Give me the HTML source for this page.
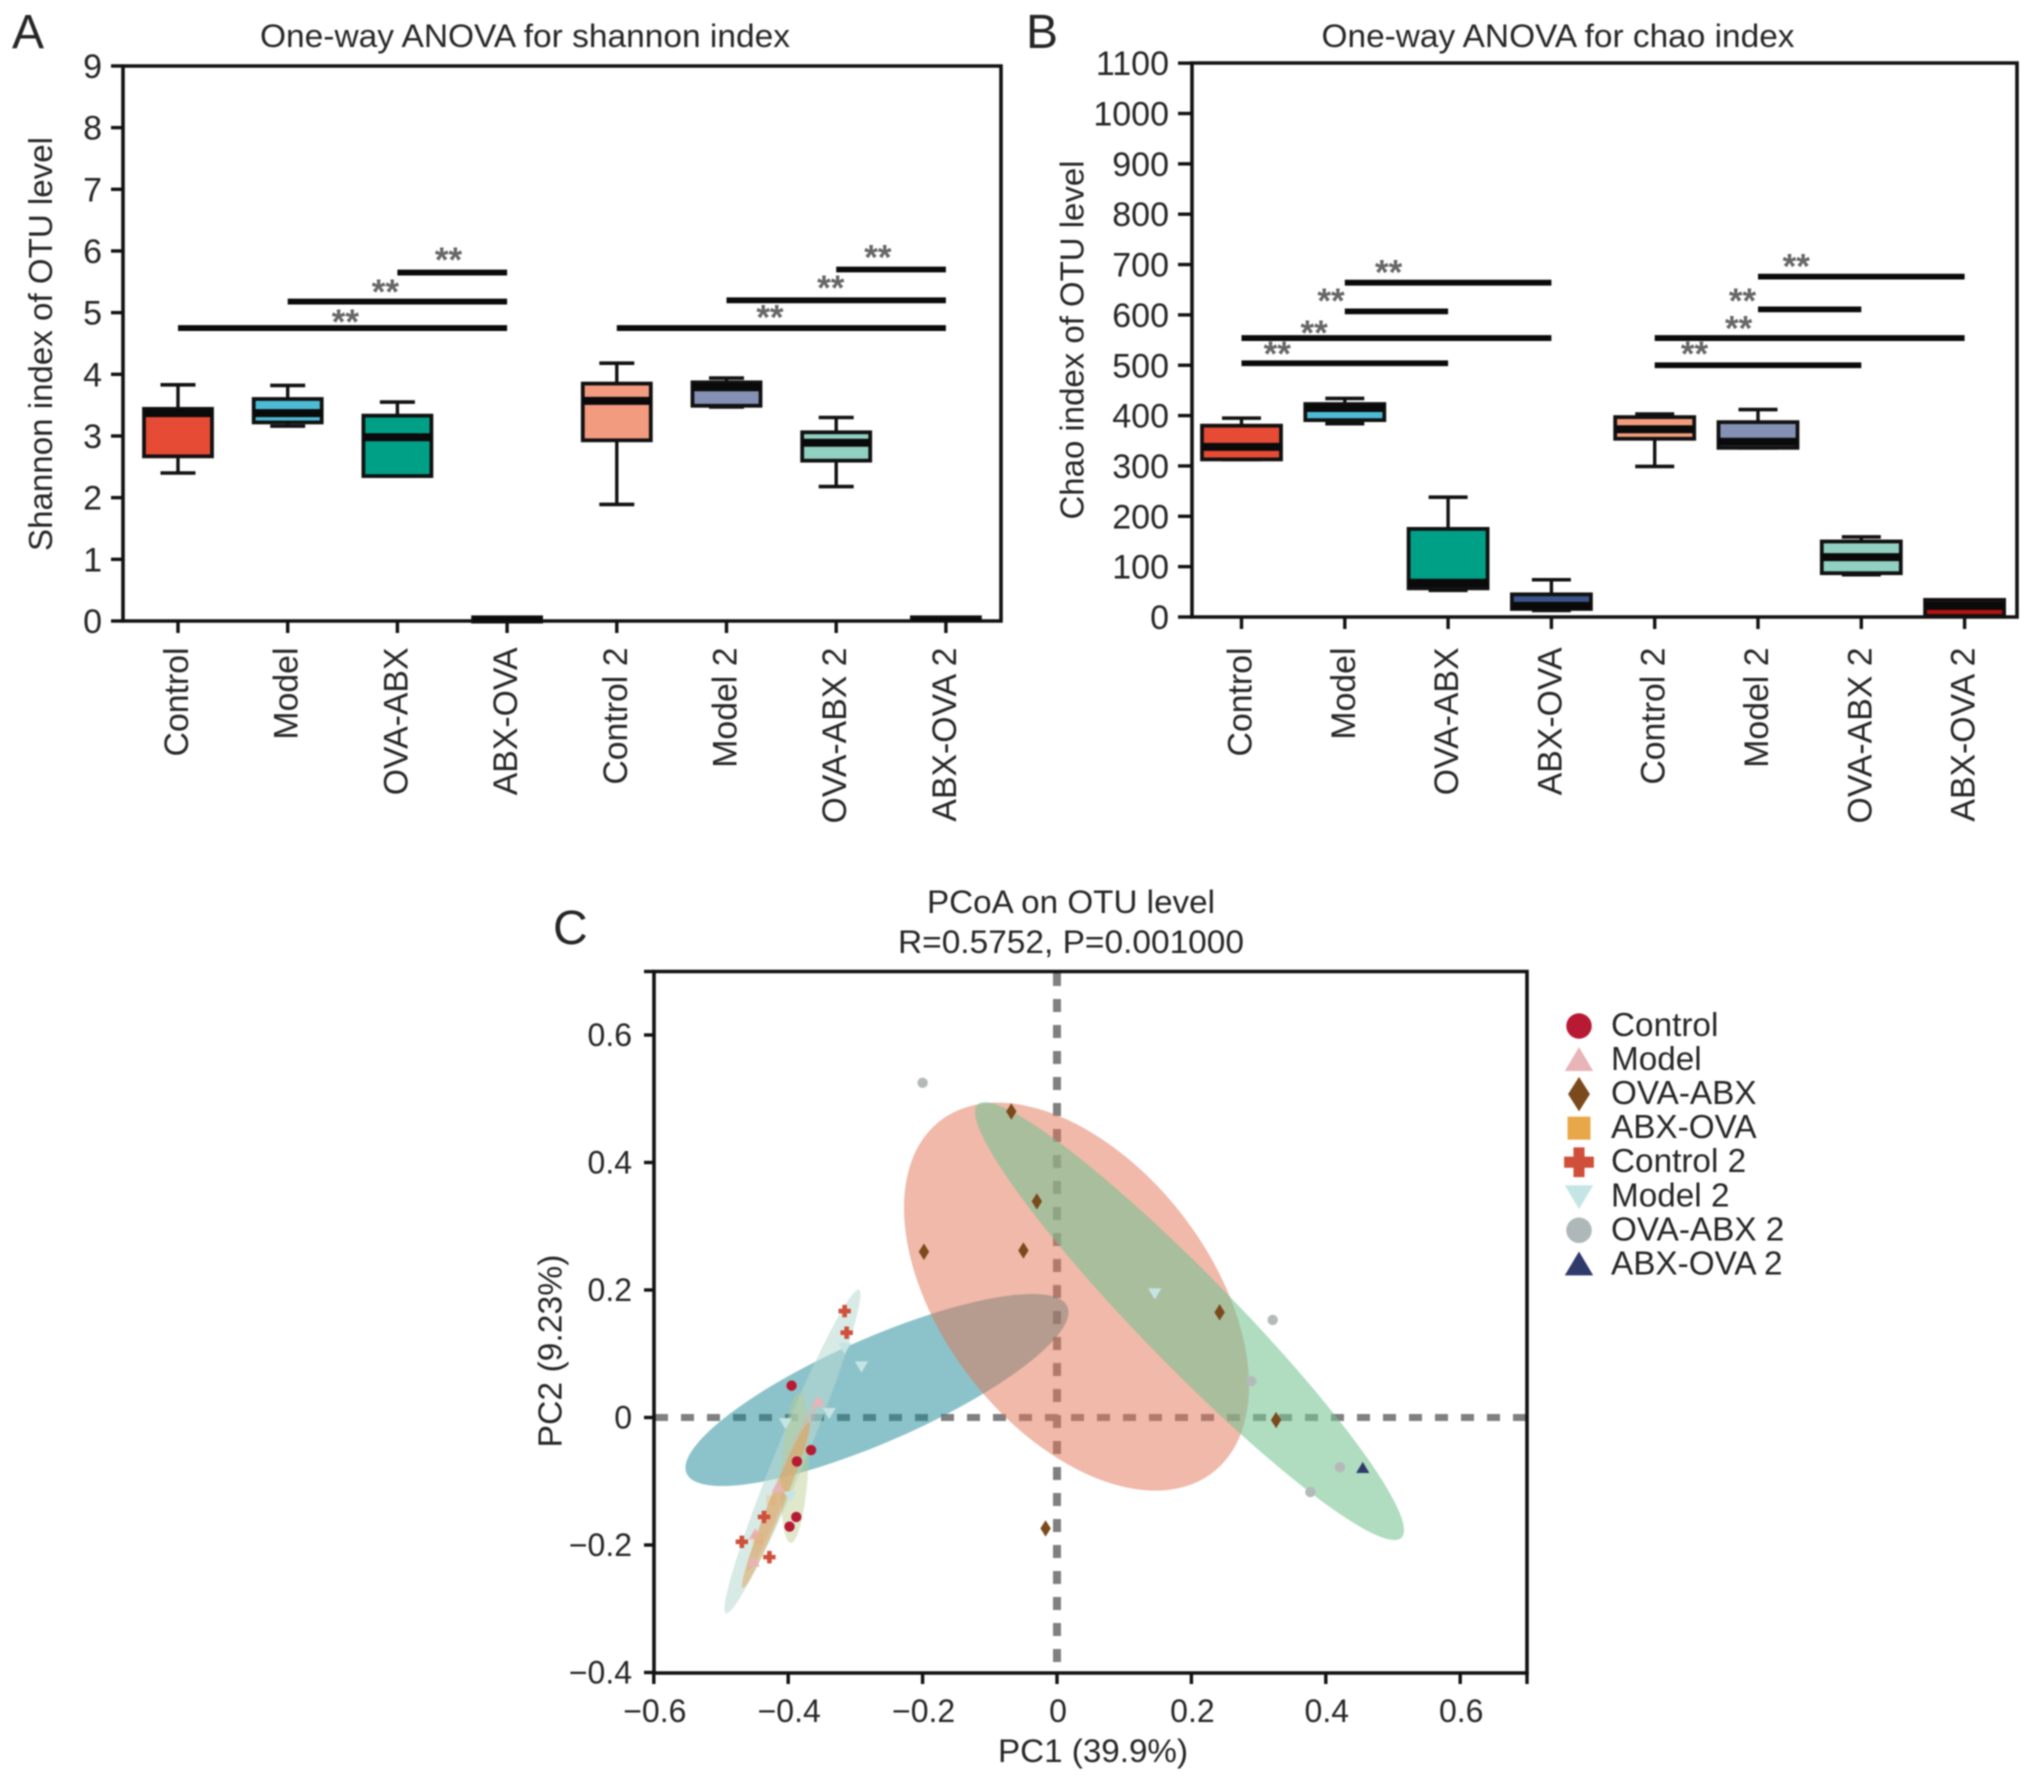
<!DOCTYPE html>
<html lang="en">
<head>
<meta charset="utf-8">
<title>Alpha diversity and PCoA on OTU level</title>
<style>
  html, body { margin: 0; padding: 0; background: #fff; }
  #figure { display: block; width: 2032px; height: 1782px; filter: blur(0.7px); }
  text { font-family: "Liberation Sans", sans-serif; fill: #262626; }
</style>
</head>
<body>
<svg id="figure" xmlns="http://www.w3.org/2000/svg" width="2032" height="1782" viewBox="0 0 2032 1782"></svg>
<script>
/* ---------- shared categories ---------- */
const categories = ['Control', 'Model', 'OVA-ABX', 'ABX-OVA', 'Control 2', 'Model 2', 'OVA-ABX 2', 'ABX-OVA 2'];
const boxColors = ['#E64B35', '#4DBBD5', '#00A087', '#3C5488', '#F39B7F', '#8491B4', '#91D1C2', '#B41212'];

/* ---------- panel A: Shannon ---------- */
const shannonTicks = [0, 1, 2, 3, 4, 5, 6, 7, 8, 9];
const shannonLow    = [2.40, 3.16, 2.35, -0.01, 1.89, 3.47, 2.18, 0.01];
const shannonQ1     = [2.67, 3.22, 2.35, -0.01, 2.93, 3.49, 2.60, 0.01];
const shannonMedian = [3.37, 3.37, 2.98, 0.03, 3.57, 3.79, 2.89, 0.03];
const shannonQ3     = [3.44, 3.60, 3.33, 0.06, 3.85, 3.87, 3.06, 0.06];
const shannonHigh   = [3.83, 3.82, 3.55, 0.06, 4.18, 3.94, 3.30, 0.06];
const shannonSigFrom  = [0, 1, 2, 4, 5, 6];
const shannonSigTo    = [3, 3, 3, 7, 7, 7];
const shannonSigLevel = [4.75, 5.18, 5.65, 4.75, 5.20, 5.70];
const shannonStarCat  = [1.526, 1.89, 2.466, 5.396, 5.95, 6.38];
const shannonStarVal  = [4.94, 5.42, 5.94, 5.01, 5.49, 5.98];

/* ---------- panel B: Chao ---------- */
const chaoTicks = [0, 100, 200, 300, 400, 500, 600, 700, 800, 900, 1000, 1100];
const chaoLow    = [313, 384, 53, 13, 299, 336, 84, 2];
const chaoQ1     = [313, 391, 57, 16, 354, 336, 87, 2];
const chaoMedian = [338, 415, 68, 22, 373, 348, 119, 22];
const chaoQ3     = [380, 423, 175, 45, 397, 387, 150, 34];
const chaoHigh   = [395, 434, 238, 74, 403, 412, 159, 34];
const chaoSigFrom  = [0, 0, 1, 1, 4, 4, 5, 5];
const chaoSigTo    = [2, 3, 2, 3, 6, 7, 6, 7];
const chaoSigLevel = [504, 554, 607, 664, 500, 554, 611, 676];
const chaoStarCat  = [0.346, 0.703, 0.866, 1.424, 4.385, 4.812, 4.85, 5.37];
const chaoStarVal  = [533, 575, 639, 695, 533, 584, 639, 707];

/* ---------- panel C: PCoA ---------- */
const pcoaXTicks = [-0.6, -0.4, -0.2, 0, 0.2, 0.4, 0.6];
const pcoaYTicks = [-0.4, -0.2, 0, 0.2, 0.4, 0.6];
const controlPC1 = [-0.395, -0.366, -0.387, -0.388, -0.398];
const controlPC2 = [0.050, -0.051, -0.069, -0.156, -0.171];
const modelPC1 = [-0.355, -0.449, -0.452, -0.415];
const modelPC2 = [0.025, -0.183, -0.226, -0.109];
const ovaAbxPC1 = [-0.068, -0.030, -0.198, -0.050, 0.242, 0.326, -0.017];
const ovaAbxPC2 = [0.480, 0.339, 0.260, 0.262, 0.165, -0.004, -0.174];
const abxOvaPC1 = [-0.425, -0.445];
const abxOvaPC2 = [-0.130, -0.190];
const control2PC1 = [-0.316, -0.313, -0.436, -0.469, -0.428];
const control2PC2 = [0.167, 0.133, -0.156, -0.195, -0.219];
const model2PC1 = [-0.316, -0.291, -0.339, -0.404, -0.397, 0.1455];
const model2PC2 = [0.109, 0.080, 0.007, -0.009, -0.124, 0.1945];
const ovaAbx2PC1 = [-0.200, 0.321, 0.289, 0.421, 0.377];
const ovaAbx2PC2 = [0.525, 0.153, 0.057, -0.078, -0.117];
const abxOva2PC1 = [0.455];
const abxOva2PC2 = [-0.079];

/* ellipse centre, half extents along each axis, and x-y correlation, in data units */
const ellipseNames = ['teal-control', 'salmon-ova-abx', 'green-ova-abx-2', 'pale-model-2', 'beige-control-thin', 'pink-model-thin', 'orange-abx-ova-thin'];
const ellipseCX = [-0.2679, 0.0290, 0.1972, -0.3936, -0.3899, -0.4077, -0.4182];
const ellipseCY = [0.0431, 0.1896, 0.1512, -0.0533, -0.0792, -0.1035, -0.1373];
const ellipseRX = [0.2850, 0.2567, 0.3192, 0.1012, 0.0208, 0.0536, 0.0506];
const ellipseRY = [0.1506, 0.3043, 0.3435, 0.2541, 0.1176, 0.1380, 0.1302];
const ellipseRho = [0.81, -0.458, -0.955, 0.97, 0.30, 0.98, 0.972];
const ellipseColors = ['#198795', '#E17355', '#77C393', '#BADAD2', '#BBCB8D', '#E6AFAA', '#DD9F50'];
const ellipseAlpha = [0.5, 0.5, 0.58, 0.56, 0.45, 0.35, 0.5];

/* ---------- axis functions ---------- */
function shannonX(i) { return 178 + 109.7 * i; }
function shannonY(v) { return 621 - 61.67 * v; }
function chaoX(i) { return 1241.5 + 103.3 * i; }
function chaoY(v) { return 617 - 0.5035 * v; }
function pcoaX(v) { return 1057 + 672 * v; }
function pcoaY(v) { return 1417.5 - 637.5 * v; }

/* ---------- helpers ---------- */
const svg = document.getElementById('figure');
const NS = 'http://www.w3.org/2000/svg';
function make(tag, attrs, parent) {
  const node = document.createElementNS(NS, tag);
  for (const k in attrs) node.setAttribute(k, attrs[k]);
  (parent || svg).appendChild(node);
  return node;
}
function slug(s) { return s.toLowerCase().replace(/[^a-z0-9]+/g, '-'); }
function hline(x1, y1, x2, y2, w, color, parent) {
  return make('line', { x1: x1, y1: y1, x2: x2, y2: y2, stroke: color || '#111', 'stroke-width': w }, parent);
}
function label(str, x, y, size, opts, parent) {
  const o = opts || {};
  const attrs = { x: x, y: y, 'font-size': size, 'text-anchor': o.anchor || 'middle' };
  if (o.rotate) attrs.transform = 'rotate(-90 ' + x + ' ' + y + ')';
  if (o.len) { attrs.textLength = o.len; attrs.lengthAdjust = 'spacingAndGlyphs'; }
  if (o.bold) attrs['font-weight'] = 'bold';
  if (o.color) attrs.style = 'fill:' + o.color;
  const t = make('text', attrs, parent);
  t.textContent = str;
  return t;
}

/* ---------- box panel ---------- */
function drawBoxPanel(cfg) {
  const g = make('g', {});
  
  

  const frame = make('path', {
    d: 'M' + cfg.left + ' ' + cfg.top + 'H' + cfg.right + 'V' + cfg.bottom + 'H' + cfg.left + 'Z',
    fill: 'none', stroke: '#111', 'stroke-width': 3.6
  }, g);
  
  

  cfg.ticks.forEach(function (v) {
    const y = cfg.y(v);
    const tick = hline(cfg.left - cfg.tickLen, y, cfg.left, y, 3.4, '#111', g);
    
    
    const tl = label(String(v), cfg.left - cfg.tickLen - 9, y + 12, 34, { anchor: 'end' }, g);
    
    
  });

  categories.forEach(function (name, i) {
    const x = cfg.x(i);
    const s = slug(name);
    const tick = hline(x, cfg.bottom, x, cfg.bottom + 12, 3.4, '#111', g);
    
    
    const tl = label(name, x + 10, 647.5, 33.8, { anchor: 'end', rotate: true }, g);
    
    

    const box = make('g', {}, g);
    
    
    const yLow = cfg.y(cfg.low[i]), yHigh = cfg.y(cfg.high[i]);
    const yQ1 = cfg.y(cfg.q1[i]), yQ3 = cfg.y(cfg.q3[i]), yMed = cfg.y(cfg.median[i]);
    const whisker = hline(x, yHigh, x, yLow, 3.4, '#111', box);
    
    
    const capHigh = hline(x - cfg.cap / 2, yHigh, x + cfg.cap / 2, yHigh, 3.6, '#111', box);
    
    
    const capLow = hline(x - cfg.cap / 2, yLow, x + cfg.cap / 2, yLow, 3.6, '#111', box);
    
    
    const rect = make('rect', {
      x: x - cfg.boxW / 2, y: yQ3, width: cfg.boxW, height: Math.max(yQ1 - yQ3, 1),
      fill: boxColors[i], stroke: '#111', 'stroke-width': 3.8
    }, box);
    
    
    const medW = Math.min(8, Math.max(yQ1 - yQ3, 1));
    const med = hline(x - cfg.boxW / 2, yMed, x + cfg.boxW / 2, yMed, medW, '#0a0a0a', box);
    
    
  });

  cfg.sigFrom.forEach(function (from, i) {
    const y = cfg.y(cfg.sigLevel[i]);
    const bar = hline(cfg.x(from), y, cfg.x(cfg.sigTo[i]), y, 5.8, '#0a0a0a', g);
    
    
  });
  cfg.starCat.forEach(function (c, i) {
    const st = label('**', cfg.x(c), cfg.y(cfg.starVal[i]) + 17.5, 35, { color: '#666666', bold: true }, g);
    
    
  });

  const title = label(cfg.title, cfg.titleX, 47, 32.5, { len: cfg.titleLen }, g);
  
  
  const yt = label(cfg.yTitle, cfg.yTitleX, cfg.yTitleY, 33, { rotate: true, len: cfg.yTitleLen }, g);
  
  
}

drawBoxPanel({
  id: 'shannon', left: 123, right: 1001, top: 66, bottom: 621, tickLen: 12, boxW: 68, cap: 35,
  x: shannonX, y: shannonY, ticks: shannonTicks,
  low: shannonLow, q1: shannonQ1, median: shannonMedian, q3: shannonQ3, high: shannonHigh,
  sigFrom: shannonSigFrom, sigTo: shannonSigTo, sigLevel: shannonSigLevel,
  starCat: shannonStarCat, starVal: shannonStarVal,
  title: 'One-way ANOVA for shannon index', titleX: 525, titleLen: 530,
  yTitle: 'Shannon index of OTU level', yTitleX: 52, yTitleY: 344, yTitleLen: 414
});
drawBoxPanel({
  id: 'chao', left: 1192, right: 2017, top: 63, bottom: 617, tickLen: 14, boxW: 79, cap: 39,
  x: chaoX, y: chaoY, ticks: chaoTicks,
  low: chaoLow, q1: chaoQ1, median: chaoMedian, q3: chaoQ3, high: chaoHigh,
  sigFrom: chaoSigFrom, sigTo: chaoSigTo, sigLevel: chaoSigLevel,
  starCat: chaoStarCat, starVal: chaoStarVal,
  title: 'One-way ANOVA for chao index', titleX: 1558, titleLen: 473,
  yTitle: 'Chao index of OTU level', yTitleX: 1083.5, yTitleY: 340, yTitleLen: 359
});

/* ---------- panel letters ---------- */
const letterA = label('A', 12, 48, 48, { anchor: 'start' });


const letterB = label('B', 1026, 48, 48, { anchor: 'start' });


const letterC = label('C', 553, 944, 48, { anchor: 'start' });



/* ---------- markers ---------- */
function drawMarker(shape, cx, cy, k, color, parent) {
  let node;
  if (shape === 'circle') {
    node = make('circle', { cx: cx, cy: cy, r: 5.2 * k, fill: color }, parent);
  } else if (shape === 'square') {
    node = make('rect', { x: cx - 5 * k, y: cy - 5 * k, width: 10 * k, height: 10 * k, fill: color }, parent);
  } else {
    let pts;
    const s = 6 * k;
    if (shape === 'up') pts = [[0, -s], [s * 1.1, s * 0.85], [-s * 1.1, s * 0.85]];
    if (shape === 'down') pts = [[-s * 1.1, -s * 0.85], [s * 1.1, -s * 0.85], [0, s]];
    if (shape === 'diamond') pts = [[0, -8.2 * k], [5.2 * k, 0], [0, 8.2 * k], [-5.2 * k, 0]];
    if (shape === 'plus') {
      const a = 6.2 * k, b = 2.3 * k;
      pts = [[-b, -a], [b, -a], [b, -b], [a, -b], [a, b], [b, b], [b, a], [-b, a], [-b, b], [-a, b], [-a, -b], [-b, -b]];
    }
    node = make('polygon', {
      points: pts.map(function (p) { return (cx + p[0]) + ',' + (cy + p[1]); }).join(' '),
      fill: color
    }, parent);
  }
  return node;
}

/* ---------- panel C ---------- */
(function drawPcoa() {
  const g = make('g', {});
  
  

  const zeroH = make('line', { x1: 655, y1: pcoaY(0), x2: 1527, y2: pcoaY(0), stroke: '#808080', 'stroke-width': 7, 'stroke-dasharray': '13 13' }, g);
  
  
  const zeroV = make('line', { x1: pcoaX(0), y1: 973, x2: pcoaX(0), y2: 1665, stroke: '#808080', 'stroke-width': 8, 'stroke-dasharray': '13 13' }, g);
  
  

  ellipseNames.forEach(function (name, i) {
    const sx = 672, sy = 637.5;
    const rho = ellipseRho[i];
    const a = ellipseRX[i] * sx;
    const b = -ellipseRY[i] * sy * rho;
    const d = ellipseRY[i] * sy * Math.sqrt(1 - rho * rho);
    const e = make('circle', {
      cx: 0, cy: 0, r: 1, fill: ellipseColors[i], 'fill-opacity': ellipseAlpha[i],
      transform: 'matrix(' + a + ' ' + b + ' 0 ' + d + ' ' + pcoaX(ellipseCX[i]) + ' ' + pcoaY(ellipseCY[i]) + ')'
    }, g);
    
    
  });

  const frame = make('path', { d: 'M654 971.5H1527V1673H654Z', fill: 'none', stroke: '#111', 'stroke-width': 3.6 }, g);
  
  
  const topTick = hline(644, 971.5, 654, 971.5, 3.4, '#111', g);
  
  
  const endTick = hline(1527, 1673, 1527, 1684, 3.4, '#111', g);
  
  

  pcoaYTicks.forEach(function (v) {
    const y = pcoaY(v);
    const tick = hline(644, y, 654, y, 3.4, '#111', g);
    
    
    const txt = (v < 0 ? '\u2212' + Math.abs(v).toFixed(1) : (v === 0 ? '0' : v.toFixed(1)));
    const tl = label(txt, 632, y + 11, 32, { anchor: 'end' }, g);
    
    
  });
  pcoaXTicks.forEach(function (v) {
    const x = pcoaX(v);
    const tick = hline(x, 1673, x, 1684, 3.4, '#111', g);
    
    
    const txt = (v < 0 ? '\u2212' + Math.abs(v).toFixed(1) : (v === 0 ? '0' : v.toFixed(1)));
    const tl = label(txt, x + 1, 1722, 32, {}, g);
    
    
  });

  const series = [
    { name: 'Model', shape: 'up', color: '#E8B4B8', alpha: 1, xs: modelPC1, ys: modelPC2 },
    { name: 'ABX-OVA', shape: 'square', color: '#E8A84A', alpha: 0.25, xs: abxOvaPC1, ys: abxOvaPC2 },
    { name: 'Model 2', shape: 'down', color: '#C5E5E5', alpha: 1, xs: model2PC1, ys: model2PC2 },
    { name: 'OVA-ABX 2', shape: 'circle', color: '#B4BABA', alpha: 1, xs: ovaAbx2PC1, ys: ovaAbx2PC2 },
    { name: 'Control', shape: 'circle', color: '#B81A33', alpha: 1, xs: controlPC1, ys: controlPC2 },
    { name: 'Control 2', shape: 'plus', color: '#CF4F3A', alpha: 1, xs: control2PC1, ys: control2PC2 },
    { name: 'OVA-ABX', shape: 'diamond', color: '#7A4A1C', alpha: 1, xs: ovaAbxPC1, ys: ovaAbxPC2 },
    { name: 'ABX-OVA 2', shape: 'up', color: '#2F3A6B', alpha: 1, xs: abxOva2PC1, ys: abxOva2PC2 }
  ];
  series.forEach(function (s) {
    s.xs.forEach(function (xv, i) {
      const m = drawMarker(s.shape, pcoaX(xv), pcoaY(s.ys[i]), 1, s.color, g);
      m.setAttribute('fill-opacity', s.alpha);
      
      
    });
  });

  const t1 = label('PCoA on OTU level', 1071, 913, 32, { len: 288 }, g);
  
  
  const t2 = label('R=0.5752, P=0.001000', 1071, 953, 32, { len: 346 }, g);
  
  
  const xt = label('PC1 (39.9%)', 1093, 1762, 32, { len: 190 }, g);
  
  
  const yt = label('PC2 (9.23%)', 561.5, 1351, 33, { rotate: true, len: 193 }, g);
  
  

  /* legend */
  const legendShapes = ['circle', 'up', 'diamond', 'square', 'plus', 'down', 'circle', 'up'];
  const legendColors = ['#B81A33', '#E8B4B8', '#7A4A1C', '#E8A84A', '#CF4F3A', '#C5E5E5', '#AEB8B8', '#2F3A6B'];
  const legendScale = [2.45, 2.15, 2.1, 2.3, 2.4, 2.15, 2.45, 2.15];
  const legend = make('g', {}, g);
  
  
  categories.forEach(function (name, i) {
    const rowY = 1025 + 34.05 * i;
    const entry = make('g', {}, legend);
    
    
    const mk = drawMarker(legendShapes[i], 1579, rowY + 1, legendScale[i], legendColors[i], entry);
    
    
    const tx = label(name, 1611, rowY + 11, 33.3, { anchor: 'start' }, entry);
    
    
  });
})();
</script>
</body>
</html>
